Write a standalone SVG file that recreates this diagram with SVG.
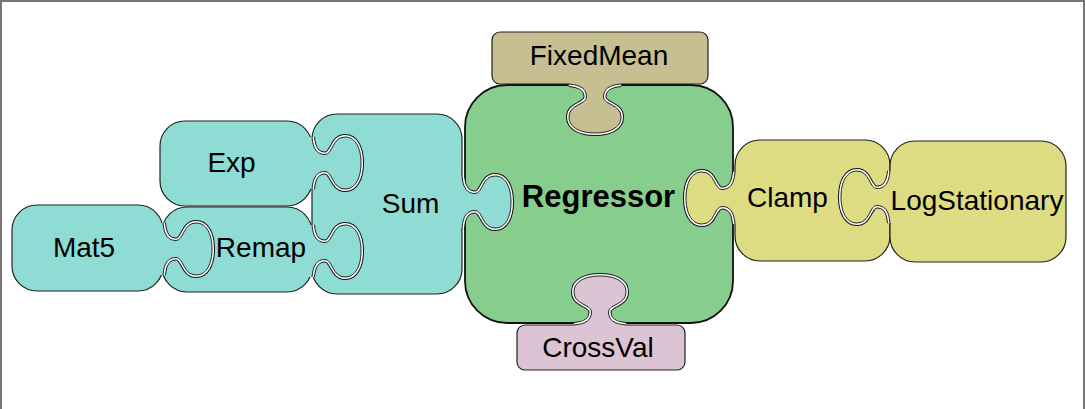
<svg xmlns="http://www.w3.org/2000/svg" xmlns:xlink="http://www.w3.org/1999/xlink" width="1085" height="409" viewBox="0 0 1085 409">
<style>
.body{stroke:#222;stroke-width:1.2}
.lbl{font-family:"Liberation Sans",Arial,sans-serif;font-size:28px;fill:#000;text-anchor:middle}
.big{font-weight:bold;font-size:31px}
</style>
<defs>
<path id="tc" d="M0,-26 C1,-14 5,-8.5 13,-8.5 C21,-8.5 20,-26 33,-26 C44,-26 49,-14 49,0 C49,14 44,26 33,26 C20,26 21,8.5 13,8.5 C5,8.5 1,14 0,26"/>
<path id="tf" d="M-3,-26 L0,-26 C1,-14 5,-8.5 13,-8.5 C21,-8.5 20,-26 33,-26 C44,-26 49,-14 49,0 C49,14 44,26 33,26 C20,26 21,8.5 13,8.5 C5,8.5 1,14 0,26 L-3,26 Z"/>
<g id="tab">
<use href="#tc" fill="none" stroke="#111" stroke-width="6"/>
<use href="#tc" fill="none" stroke="#fff" stroke-width="4"/>
<use href="#tf" stroke="none"/>
<use href="#tc" fill="none" stroke="#222" stroke-width="1"/>
</g>
</defs>
<rect x="1" y="1" width="1083" height="440" fill="#fff" stroke="#777" stroke-width="2"/>
<g id="connectors"/>
<g id="node-regressor">
<rect x="465" y="85" width="268" height="238" rx="42" fill="#87ce8e" stroke="#111" stroke-width="1.8"/>
<text class="lbl big" x="598.5" y="207">Regressor</text>
</g>
<g id="node-fixedmean">
<rect class="body" x="492" y="32" width="216" height="52" rx="8" fill="#c6bf92" stroke="#555"/>
<use href="#tab" transform="translate(595,84) rotate(90)" fill="#c6bf92"/>
<text class="lbl" x="599" y="65">FixedMean</text>
</g>
<g id="node-crossval">
<rect class="body" x="517" y="325" width="168" height="45" rx="8" fill="#dcc4d4" stroke="#555"/>
<use href="#tab" transform="translate(600,325) rotate(-90)" fill="#dcc4d4"/>
<text class="lbl" x="598" y="357">CrossVal</text>
</g>
<g id="node-sum">
<rect class="body" x="312" y="114" width="150" height="180" rx="25" fill="#8fdcd4"/>
<use href="#tab" transform="translate(462,202)" fill="#8fdcd4"/>
<text class="lbl" x="410.5" y="213">Sum</text>
</g>
<g id="node-clamp">
<rect class="body" x="735" y="140" width="155" height="121" rx="25" fill="#dedc82"/>
<use href="#tab" transform="translate(735,198) rotate(180)" fill="#dedc82"/>
<text class="lbl" x="787.5" y="207">Clamp</text>
</g>
<g id="node-exp">
<rect class="body" x="160" y="121" width="152" height="85" rx="25" fill="#8fdcd4"/>
<use href="#tab" transform="translate(312,163)" fill="#8fdcd4"/>
<text class="lbl" x="231.5" y="172">Exp</text>
</g>
<g id="node-remap">
<rect class="body" x="162" y="207" width="150" height="85" rx="25" fill="#8fdcd4"/>
<use href="#tab" transform="translate(312,251)" fill="#8fdcd4"/>
<text class="lbl" x="261" y="257">Remap</text>
</g>
<g id="node-logstationary">
<rect class="body" x="890" y="141" width="176" height="121" rx="25" fill="#dedc82"/>
<use href="#tab" transform="translate(890,197) rotate(180)" fill="#dedc82"/>
<text class="lbl" x="977" y="210">LogStationary</text>
</g>
<g id="node-mat5">
<rect class="body" x="12" y="205" width="151" height="86" rx="25" fill="#8fdcd4"/>
<use href="#tab" transform="translate(163,249)" fill="#8fdcd4"/>
<text class="lbl" x="84" y="257">Mat5</text>
</g>
</svg>
